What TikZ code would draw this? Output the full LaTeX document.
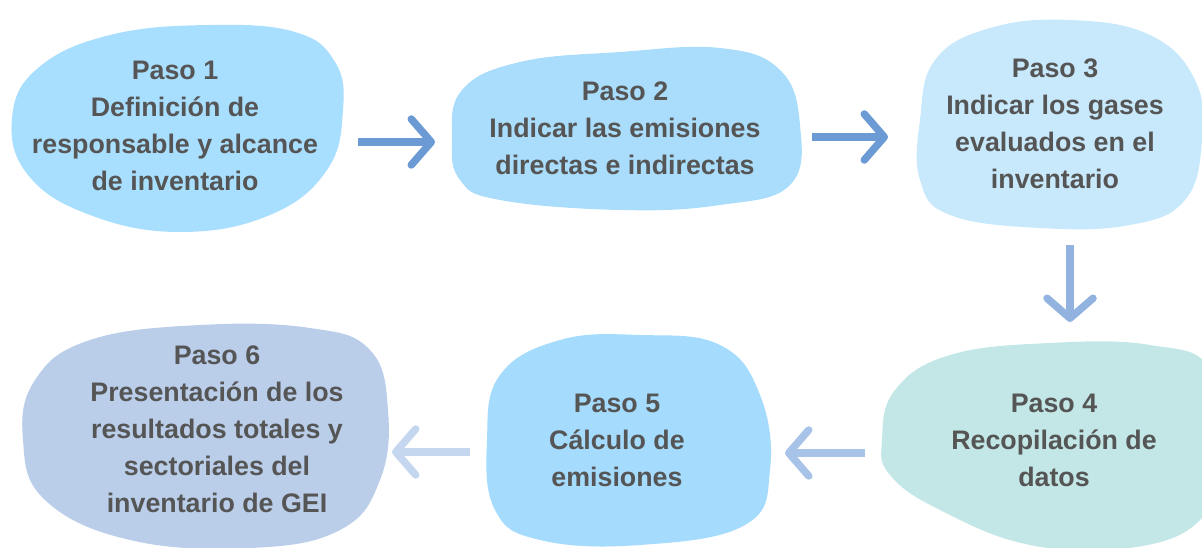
\documentclass[tikz,border=0pt]{standalone}
\usepackage{fontspec}
\setmainfont{Liberation Sans}
\usetikzlibrary{arrows.meta}
\definecolor{bA}{HTML}{A9DFFE}
\definecolor{bB}{HTML}{A9DDFB}
\definecolor{bC}{HTML}{C8E9FC}
\definecolor{bD}{HTML}{C2E7E6}
\definecolor{bE}{HTML}{A5DBFD}
\definecolor{bF}{HTML}{BACEEA}
\definecolor{aA}{HTML}{6C9AD5}
\definecolor{aC}{HTML}{92B3E0}
\definecolor{aD}{HTML}{A8C3E8}
\definecolor{aE}{HTML}{C5D6EF}
\definecolor{txt}{HTML}{555555}
\tikzset{
  stepbox/.style={align=center, text=txt, font=\bfseries\fontsize{26.8}{37}\selectfont, inner sep=0pt},
  flowarrow/.style={line width=7.5pt, -{Straight Barb[length=20pt,width=46pt,round]}}
}
\begin{document}
\begin{tikzpicture}[x=1pt,y=-1pt]
\useasboundingbox (0,0) rectangle (1202,548);
% blobs
\fill[bA] plot[smooth cycle, tension=0.7] coordinates {(12,118) (38,68) (110,35) (210,25) (295,32) (335,62) (343,110) (327,170) (270,215) (180,232) (90,215) (28,175)};
\fill[bB] plot[smooth cycle, tension=0.7] coordinates {(452,140) (462,90) (520,62) (620,52) (720,48) (780,70) (800,125) (790,185) (720,205) (620,210) (500,200) (460,180)};
\fill[bC] plot[smooth cycle, tension=0.7] coordinates {(920,120) (935,60) (990,28) (1070,20) (1150,35) (1195,80) (1202,140) (1185,200) (1130,225) (1040,228) (950,215) (920,180)};
\fill[bD] plot[smooth cycle, tension=0.7] coordinates {(882,440) (895,390) (950,355) (1050,343) (1150,345) (1210,370) (1215,460) (1200,520) (1130,548) (1030,545) (940,510) (890,475)};
\fill[bE] plot[smooth cycle, tension=0.7] coordinates {(487,440) (500,375) (560,340) (640,335) (720,345) (760,395) (770,470) (745,525) (640,545) (540,540) (495,510)};
\fill[bF] plot[smooth cycle, tension=0.7] coordinates {(23,440) (35,380) (90,340) (200,325) (310,328) (370,350) (388,410) (380,480) (340,530) (250,548) (130,540) (45,500)};
% texts
\node[stepbox] (p1) at (175,126) {Paso 1\\Definición de\\responsable y alcance\\de inventario};
\node[stepbox] (p2) at (625,128) {Paso 2\\Indicar las emisiones\\directas e indirectas};
\node[stepbox] (p3) at (1055,124) {Paso 3\\Indicar los gases\\evaluados en el\\inventario};
\node[stepbox] (p4) at (1054,440) {Paso 4\\Recopilación de\\datos};
\node[stepbox] (p5) at (617,440) {Paso 5\\Cálculo de\\emisiones};
\node[stepbox] (p6) at (217,429) {Paso 6\\Presentación de los\\resultados totales y\\sectoriales del\\inventario de GEI};
% arrow ends
\coordinate (a1s) at (358,142); \coordinate (a1e) at (435,142);
\coordinate (a2s) at (812,137); \coordinate (a2e) at (888,137);
\coordinate (a3s) at (1070,245); \coordinate (a3e) at (1070,322);
\coordinate (a4s) at (865,453); \coordinate (a4e) at (785,453);
\coordinate (a5s) at (470,452); \coordinate (a5e) at (392,452);
\draw[flowarrow, aA] (a1s) -- (a1e);
\draw[flowarrow, aA] (a2s) -- (a2e);
\draw[flowarrow, aC] (a3s) -- (a3e);
\draw[flowarrow, aD] (a4s) -- (a4e);
\draw[flowarrow, aE] (a5s) -- (a5e);
\end{tikzpicture}
\end{document}
